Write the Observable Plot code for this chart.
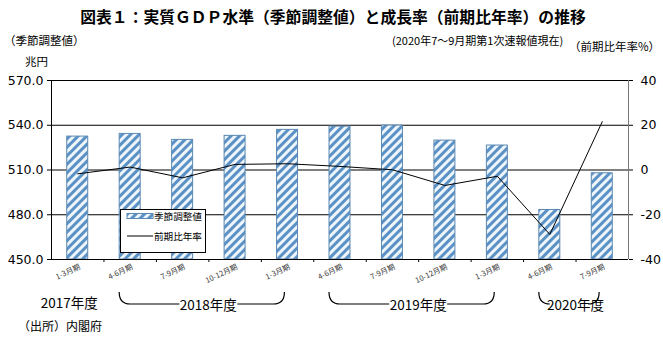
<!DOCTYPE html>
<html><head><meta charset="utf-8">
<script src="https://cdn.jsdelivr.net/npm/d3@7"></script>
<script src="https://cdn.jsdelivr.net/npm/@observablehq/plot@0.6"></script>
<style>
body{margin:0;background:#fff;}
#chart{width:663px;height:339px;}
</style></head><body><div id="chart"></div>
<script>
const quarters = ["1-3月期","4-6月期","7-9月期","10-12月期","1-3月期","4-6月期","7-9月期","10-12月期","1-3月期","4-6月期","7-9月期"];
const gdpLevel = [532.4, 534.2, 530.2, 532.9, 536.9, 539.1, 539.8, 529.7, 526.4, 483.2, 507.8];
const growthRate = [-1.7, 1.3, -3.5, 2.5, 2.8, 1.6, 0.1, -6.9, -2.8, -28.8, 21.6];
const leftTicks = [450, 480, 510, 540, 570];
const rightTicks = [-40, -20, 0, 20, 40];
const fiscalYearLabels = ["2017年度", "2018年度", "2019年度", "2020年度"];
const fiscalYearFirst = [0, 1, 5, 9];
const fiscalYearLast = [0, 4, 8, 10];
const legendLabels = ["季節調整値", "前期比年率"];

const JP = "'Noto Sans CJK JP', 'Noto Sans', sans-serif";
const toLeft = r => 510 + r * 1.5;
const rows = quarters.map((q, i) => ({i, q, level: gdpLevel[i], rate: growthRate[i]}));

const chart = Plot.plot({
  width: 663, height: 339,
  marginLeft: 51, marginRight: 35, marginTop: 80, marginBottom: 80,
  style: {background: "#fff", overflow: "visible"},
  x: {domain: [0, 11]},
  y: {domain: [450, 570]},
  marks: [
    Plot.ruleY([480, 510, 540, 570], {stroke: "#000", strokeWidth: 1}),
    Plot.rect(rows, {x1: d => d.i + 0.3, x2: d => d.i + 0.7, y1: 450, y2: "level",
      fill: "url(#hatch)", stroke: "#5b88b3", strokeWidth: 1}),
    Plot.line(rows, {x: d => d.i + 0.5, y: d => toLeft(d.rate), stroke: "#000", strokeWidth: 1}),
    Plot.ruleX([0], {stroke: "#000", strokeWidth: 1}),
    Plot.ruleX([11], {stroke: "#777", strokeWidth: 1}),
    Plot.ruleY([450], {stroke: "#000", strokeWidth: 1.2}),
    Plot.axisY(leftTicks, {anchor: "left", tickSize: 4, tickPadding: 4, tickFormat: d3.format(".1f"),
      fontSize: 12.5, fontFamily: "'DejaVu Sans', sans-serif", fill: "#000", label: null}),
    Plot.axisY(rightTicks.map(toLeft), {anchor: "right", tickSize: 4, tickPadding: 8,
      tickFormat: d => String(Math.round((d - 510) / 1.5)), fontSize: 12.5,
      fontFamily: "'DejaVu Sans', sans-serif", fill: "#000", label: null}),
    Plot.axisX(d3.range(1, 11), {anchor: "bottom", tickSize: 3, tickFormat: () => "", label: null}),
    Plot.axisX(d3.range(11).map(i => i + 0.5), {anchor: "bottom", tickSize: 0, tickPadding: 7,
      tickRotate: -25, tickFormat: d => quarters[Math.floor(d)], fontSize: 7.5,
      fontFamily: JP, fill: "#333", label: null, dx: 2})
  ]
});
document.getElementById("chart").appendChild(chart);

const svg = d3.select(chart);
const xs = chart.scale("x");
const X = v => xs.apply(v);

// hatch pattern
const defs = svg.insert("defs", ":first-child");
const pat = defs.append("pattern").attr("id", "hatch").attr("patternUnits", "userSpaceOnUse")
  .attr("width", 6).attr("height", 6).attr("patternTransform", "rotate(45)");
pat.append("rect").attr("width", 6).attr("height", 6).attr("fill", "#eef6fc");
pat.append("rect").attr("width", 3).attr("height", 6).attr("fill", "#5b91c4");

const txt = (x, y, s, size, opts = {}) => svg.append("text").attr("x", x).attr("y", y)
  .attr("font-family", JP).attr("font-size", size).attr("fill", "#000")
  .attr("text-anchor", opts.anchor || "start").attr("font-weight", opts.bold ? "bold" : "normal").text(s);

txt(333, 23, "図表１：実質ＧＤＰ水準（季節調整値）と成長率（前期比年率）の推移", 15.8, {anchor: "middle", bold: true});
txt(4, 45, "（季節調整値）", 11.5);
txt(392, 45, "(2020年7～9月期第1次速報値現在)", 11);
txt(660, 51, "（前期比年率%）", 11.5, {anchor: "end"});
txt(25, 66, "兆円", 11.5);
txt(18, 331, "（出所）内閣府", 12);

// fiscal year labels and brackets
const yLine = 304, yTop = 292, r = 11;
fiscalYearLabels.forEach((lab, k) => {
  const c = X((fiscalYearFirst[k] + fiscalYearLast[k] + 1) / 2);
  if (fiscalYearFirst[k] === fiscalYearLast[k]) {
    txt(c - 8, 308, lab, 13.5, {anchor: "middle"});
    return;
  }
  const x1 = X(fiscalYearFirst[k] + 0.3);
  const x2 = X(fiscalYearLast[k] + 0.45);
  const tw = 54;
  const p = d3.path();
  p.moveTo(x1, yTop);
  p.quadraticCurveTo(x1, yLine, x1 + r, yLine);
  if (c - tw / 2 - 2 > x1 + r) p.lineTo(c - tw / 2 - 2, yLine);
  if (x2 - r > c + tw / 2 + 2) {
    p.moveTo(c + tw / 2 + 2, yLine);
    p.lineTo(x2 - r, yLine);
  } else {
    p.moveTo(x2 - r, yLine);
  }
  p.quadraticCurveTo(x2, yLine, x2, yTop);
  svg.append("path").attr("d", p.toString()).attr("fill", "none").attr("stroke", "#000").attr("stroke-width", 1.2);
  txt(c, 310, lab, 13.5, {anchor: "middle"});
});

// legend
const lg = svg.append("g");
lg.append("rect").attr("x", 120.5).attr("y", 209.5).attr("width", 85).attr("height", 43)
  .attr("fill", "#fff").attr("stroke", "#000");
lg.append("rect").attr("x", 127).attr("y", 213.5).attr("width", 26).attr("height", 5)
  .attr("fill", "url(#hatch)").attr("stroke", "#5b88b3");
lg.append("line").attr("x1", 127).attr("x2", 153).attr("y1", 236).attr("y2", 236).attr("stroke", "#000");
txt(154, 220, legendLabels[0], 9.6);
txt(154, 240, legendLabels[1], 9.6);
</script></body></html>
